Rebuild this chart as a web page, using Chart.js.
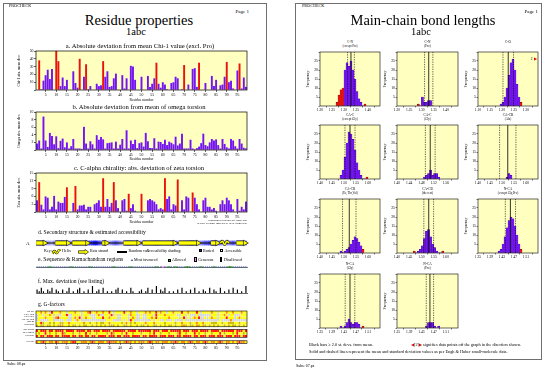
<!DOCTYPE html>
<html><head><meta charset="utf-8"><title>PROCHECK 1abc</title>
<script src="https://cdn.jsdelivr.net/npm/chart.js@4.4.1/dist/chart.umd.min.js"></script>
<style>
html,body{margin:0;padding:0;background:#fff;}
body{width:546px;height:368px;position:relative;overflow:hidden;font-family:"Liberation Serif","Times New Roman",serif;color:#000;}
.pg{position:absolute;border:1px solid #707070;box-sizing:border-box;}
.t{position:absolute;white-space:nowrap;line-height:1;}
.sq{position:absolute;box-sizing:border-box;border:0.5px solid #000;}
canvas{position:absolute;}
</style></head><body>
<div class="pg" style="left:3px;top:3px;width:264px;height:358px"></div>
<div class="pg" style="left:295px;top:3px;width:247px;height:357px"></div>
<script>
// ================= DATA =================
const sequence = ["PQITLWQRPL","VTIKIGGQLK","EALLDTGADD","TVLEEMSLPG","RWKPKMIGGI",
                  "GGFIKVRQYD","QILIEICGHK","AIGTVLVGPT","PVNIIGRNLL","TQIGCTLNF"].join("");
const residueTickLabels = [5,10,15,20,25,30,35,40,45,50,55,60,65,70,75,80,85,90,95];

const chi1Dev = [0,38,1,12,19,26,14,27,0,50,
                 37,5,16,5,13,0,0,24,9,3,
                 40,0,17,33,1,5,0,0,8,5,
                 6,37,17,24,4,5,15,21,0,0,
                 19,2,15,0,31,30,13,0,0,17,
                 0,0,18,4,8,15,35,8,3,10,
                 7,1,0,9,10,17,15,0,1,32,
                 0,7,0,27,28,4,35,0,0,9,
                 0,0,18,5,13,0,6,7,17,36,
                 10,12,2,0,25,34,2,16,4];
const chi1Highlighted = [2,10,11,21,24,32,57,70,77,90,96];

const omegaDev = [1.7,2.5,0.4,8.8,2.5,0.8,4.5,3.7,1.5,3.6,
                  0.5,2.4,3.0,0.7,2.0,0.4,1.0,2.9,0.4,0.4,
                  0.4,0.3,6.1,1.7,0.4,2.3,1.5,0.4,3.9,2.7,
                  3.4,2.8,0.4,1.8,1.9,2.0,0.4,2.2,0.4,1.4,
                  2.9,0.4,5.2,0.4,2.5,1.6,2.7,0.5,1.8,2.0,
                  0.9,4.5,2.3,0.5,0.5,3.1,0.4,2.2,2.1,1.6,
                  2.7,1.3,2.2,1.9,1.5,3.5,1.2,1.7,4.3,0.4,
                  0.4,0.4,2.7,0.4,0.2,0.5,0.9,1.8,4.3,1.3,
                  1.0,2.0,2.9,2.5,2.8,1.3,0.4,2.9,1.6,0.7,
                  0.4,2.9,2.5,1.0,0.4,2.9,1.7,0.6,0.4];

const zetaDev = [4.5,11.5,2.8,1,6,5.5,1,2,6.2,1,
                 4,3.5,3.5,5.8,9.5,0,0,3.5,10,1,
                 2.5,2.5,2.8,1,2,2,0,3,3.5,4.5,
                 2,13,2,5,2,3.5,11.5,4.5,1.5,0,
                 4.5,5,0.5,7,1.5,3,0.5,0,0,7,
                 0,0,4.5,5,4.5,4,3,1,1.5,1,
                 13,5,6,1,3,2.5,12.5,0,4.5,1,
                 6,5.5,0,7.5,5.5,3,1,0,4.5,5.5,
                 2,2,1,1.5,0.5,0,3,4.5,3,5.5,
                 4.5,3,1,0,5,0.5,2,1,4];
const zetaHighlighted = [2,15,19,32,37,44,50,61,67,74];

const accessibility = ["3456433245","6775434556","4335678997","6543345654","3467754334",
                       "5434567653","4456765434","5678543456","6789865434","456543345"].join("");
const strandSpans = [[1,4],[10,15],[18,24],[32,33],[42,48],[51,65],[68,76],[83,85],[95,98]];
const helixResidues = [87,88,89,90,91];
const helixTrace = [0,0.75,-0.75,0.75,0];

const ramaRegions = ["aaaaaabaaa","aaaaaabaaa","aaaaabaaaa","aaaaaabaaa","aaaabaaaaa",
                     "aaaaaabaag","aabaabaaaa","bbaaaaabaa","aaabaaaaaa","bbaaaaaaa"].join("");
const maxDeviation = ["2131021302","1020130102","3010204012","0301010230","2010310012",
                      "0130204021","3010102030","1020301021","0302103010","203020104"].join("");

const gFactorLabels = ["Phi-psi","Chi1-chi2","Chi1 only","Chi3 & chi4","Omega","Dihedrals",
                       "M/c bonds","M/c angles","Covalent","Overall"];
const gFactorRows = [
 ["yyoyoywryy","yoyywyyyoy","ywyyoryyoy","yoyyrywyyy","yryyoyywyy","yoyoyyryoy","ywyyoyyyry","yoyyyrywyy","yyoyywyyyo","yyoyyyoyy"],
 ["wyywyyoywy","wwyyrwwyyy","ywyyywwwyo","wwyyyrwyww","yyywoyywwy","wwyyywryyy","oyyyyywwyy","wywwwywwww","wwyyywyyoy","wyywwwyyy"],
 ["wyyyoyyywo","ryyyywwyoy","rwyoyywwyy","yryyoyyyww","yyywyoywwy","wwyyoyryyy","yyoyyyywyr","wywyoyrwwy","wyoyywyyyr","yyywyoyyy"],
 ["wywwwwyyww","wwwywwwywo","ywwwwwwwww","wwwyyywwww","ywywrywwww","wwwwywyyww","ywwwywwwwy","wwwwwwwwww","wwwwwwywww","wowwwwwww"],
 ["yyrkyykyky","ykkyyoyyyy","yyoyykyyky","kkyyoyyyyy","kyoykykyyy","yoyyyoyyyy","kyyyykyyoy","yykyyoyyoy","yykkkyykyy","kkkyykyyy"],
 ["kykkykkyky","kokyykykky","kykkyykyky","kykykkkyky","ykkykyykyk","kykyykkyky","kykkykyyko","kykkyokykk","ykykykyyky","kykkykyky"],
 ["ryrrryrryr","rrryrrrryr","rrryrryrrr","yrrrryrrrr","rryrrrryrr","rrrryrrryr","rryrrrrryr","rryrrryrrr","ryrrrryrrr","rrryrrryr"],
 ["ykyyrykyyk","yyrkyyykyy","kyyrykyyky","yyykyrkyyy","kyryykyyyk","yyykyryyky","yykyyykryy","kyyyrykyyk","yykyyyryky","yykyryyky"],
 ["ryrryrrryr","ryrrrryrry","rryrryrryr","rrryrrryrr","yrrryrrrry","rryrrrryrr","ryrrryrryr","rrryrryrrr","yrrryrrryr","rryrrryrr"],
 ["oyoroyooyr","oyoooyorry","yoooyoroyo","ooyoroooyo","yorooyoyoo","oyoroyooyo","ooyooroyoo","yoroyooyor","oyooyoroyo","oyoyorooy"]
].map(g => g.join(""));

// Main-chain bond length histograms
const histTitles = [["C-N","(except Pro)"],["C-N","(Pro)"],["C-O",""],
                    ["CA-C","(except Gly)"],["CA-C","(Gly)"],["CA-CB","(Ala)"],
                    ["CA-CB","(Ile,Thr,Val)"],["CA-CB","(the rest)"],["N-CA","(except Gly,Pro)"],
                    ["N-CA","(Gly)"],["N-CA","(Pro)"]];
const histAxisRanges = [[1.20,1.45,0.05],[1.20,1.45,0.05],[1.10,1.35,0.05],
                        [1.40,1.65,0.05],[1.40,1.60,0.04],[1.40,1.65,0.05],
                        [1.40,1.65,0.05],[1.40,1.65,0.05],[1.35,1.55,0.04],
                        [1.35,1.55,0.04],[1.35,1.55,0.04]];
const histMeans = [1.329,1.330,1.226,1.525,1.509,1.524,1.522,1.530,1.458,1.450,1.458];
const histSDs   = [0.014,0.017,0.022,0.021,0.016,0.034,0.028,0.020,0.017,0.016,0.012];
const histFirstBin = [8,10,11,10,13,14,10,8,10,10,14];
const histCounts = [
  [2,6,9,10,20,24,22,25,20,15,8,4,2,0,1],
  [1,0,5,2,2,3,3],
  [1,2,5,10,17,24,26,20,12,5,2],
  [2,5,12,20,26,25,22,16,9,5,2,0,0,1],
  [1,2,3,5,2,3,3,1],
  [1,3,2],
  [1,0,1,2,3,5,7,9,8,6,4,2],
  [1,0,1,2,4,8,12,13,9,5,3,1,0,0,1],
  [1,2,5,9,14,18,20,19,15,10,5,2],
  [1,0,1,3,5,3,2,3,3,2,0,1],
  [1,3,3,3,1,0,1]
];
const histFlags = ["rrrr..........r","r......","..........r",".............r","........","...",
                   "...........r","r.............r","...........r","...........r","......."];
const histBinsPerAxis = 30;
const histOffGraph = [0,0,2,0,0,0,0,0,0,0,0];

// ================= STYLE / LAYOUT =================
const YELLOW = '#ffffc0', PURPLE = '#7414f4', PURPLE_EDGE = '#3a0090', RED = '#ec120c', RED_EDGE = '#700000';
const RES_X0 = 36, RES_X1 = 247;
const gColors = {y:'#ffff00', k:'#cdbd00', o:'#ff9000', r:'#ff1a00', w:'#d6d6d6'};
const gSpans = [[0,1],[1,2],[2,3],[3,4],[4,5],[5,6],[7,8],[8,9],[9,10],[11.33,12.33]];
const gBlocks = [[0,6],[7,10],[11.33,12.33]];

Chart.defaults.font.family = '"Liberation Serif","Times New Roman",serif';
Chart.defaults.color = '#000';
Chart.defaults.animation = false;
Chart.defaults.responsive = false;
Chart.defaults.devicePixelRatio = 1;
Chart.defaults.plugins.legend.display = false;
Chart.defaults.plugins.tooltip.enabled = false;

Chart.register({
  id: 'frame',
  beforeDatasetsDraw(chart, args, o) {
    if (!o || !o.fill) return;
    const {ctx, chartArea: a} = chart;
    ctx.save(); ctx.fillStyle = o.fill; ctx.fillRect(a.left, a.top, a.right - a.left, a.bottom - a.top); ctx.restore();
  },
  afterDatasetsDraw(chart, args, o) {
    if (!o) return;
    const {ctx, chartArea: a} = chart;
    ctx.save(); ctx.strokeStyle = '#000'; ctx.lineWidth = o.lineWidth || 0.7;
    if (o.stroke) ctx.strokeRect(a.left, a.top, a.right - a.left, a.bottom - a.top);
    if (o.blocks) {
      const y = chart.scales.y;
      o.blocks.forEach(([b0, b1]) => {
        const p0 = y.getPixelForValue(b0), p1 = y.getPixelForValue(b1);
        ctx.strokeRect(a.left, Math.min(p0, p1), a.right - a.left, Math.abs(p1 - p0));
      });
    }
    ctx.restore();
  }
});

function mkCanvas(L, T, W, H) {
  const c = document.createElement('canvas');
  c.width = W; c.height = H;
  c.style.left = L + 'px'; c.style.top = T + 'px'; c.style.width = W + 'px'; c.style.height = H + 'px';
  document.body.appendChild(c);
  return c;
}
function txt(x, y, s, size, align, extra, html) {
  const d = document.createElement('div');
  d.className = 't';
  if (html) d.innerHTML = s; else d.textContent = s;
  d.style.fontSize = size + 'px';
  d.style.top = (y - size * 0.55) + 'px';
  if (align === 'c') { d.style.left = x + 'px'; d.style.transform = 'translateX(-50%)'; }
  else if (align === 'r') { d.style.right = (546 - x) + 'px'; }
  else d.style.left = x + 'px';
  if (extra) Object.assign(d.style, extra);
  document.body.appendChild(d);
  return d;
}
function sq(x, y, w, h, bg) {
  const d = document.createElement('div'); d.className = 'sq';
  Object.assign(d.style, {left: x + 'px', top: y + 'px', width: w + 'px', height: h + 'px', background: bg});
  document.body.appendChild(d);
}

const residueNumbers = Array.from(sequence, (_, i) => i + 1);
const isResTick = i => residueTickLabels.includes(i + 1);

// ================= LEFT PAGE: residue plots =================
function residueBarChart(plotTop, plotBottom, titleY, values, highlighted, ymax, ystep, ytitle) {
  const L = 17, W = 236, T = plotTop - 3, H = titleY + 2.5 - T;
  const cv = mkCanvas(L, T, W, Math.round(H));
  const hi = values.map((v, i) => highlighted.includes(i + 1));
  new Chart(cv, {
    type: 'bar',
    data: { labels: residueNumbers, datasets: [{
      data: values,
      backgroundColor: hi.map(h => h ? RED : PURPLE),
      borderWidth: 0,
      barPercentage: 1, categoryPercentage: 0.9
    }]},
    options: {
      layout: { padding: { left: 0, top: plotTop - T, right: L + W - RES_X1, bottom: 0 } },
      plugins: { frame: { fill: YELLOW, stroke: true } },
      scales: {
        x: { offset: true,
             grid: { offset: false, drawOnChartArea: false, tickLength: 2, lineWidth: 0.6,
                     color: c => isResTick(c.index) ? '#000' : 'rgba(0,0,0,0)' },
             border: { display: false },
             ticks: { autoSkip: false, maxRotation: 0, minRotation: 0, padding: 0.5, font: { size: 3.8 },
                      callback: (v, i) => isResTick(i) ? String(i + 1) : '' },
             title: { display: true, text: 'Residue number', font: { size: 3.7 }, padding: { top: 0.5, bottom: 0 } },
             afterFit: s => { s.height = Math.round(H) - (plotBottom - T); } },
        y: { min: 0, max: ymax,
             grid: { drawOnChartArea: false, tickLength: 2, lineWidth: 0.6, color: '#000' },
             border: { display: false },
             ticks: { stepSize: ystep, font: { size: 3.8 }, padding: 0.5, callback: v => v === 0 ? '' : v },
             title: { display: true, text: ytitle, font: { size: 3.8 }, padding: 0 },
             afterFit: s => { s.width = RES_X0 - L; } }
      }
    }
  });
}
residueBarChart(51, 90, 99, chi1Dev, chi1Highlighted, 50, 10, 'Chi-1 abs. mean dev.');
residueBarChart(112, 150, 158.5, omegaDev, [], 10, 2, 'Omega abs. mean dev.');
residueBarChart(173, 212, 221.5, zetaDev, zetaHighlighted, 15, 3, 'Zeta abs. mean dev.');

// ---- d. secondary structure strip ----
(function () {
  const L = 30, T = 236, W = 222, H = 14, pTop = 240, pBot = 246.5;
  const cv = mkCanvas(L, T, W, H);
  const accColors = Array.from(accessibility, ch => { const d = +ch; const c = 245 - 24 * d; return `rgb(${c},${c},255)`; });
  const strandPts = strandSpans.flatMap(([s, e]) => [{x: s - 0.45, y: 0}, {x: e + 0.1, y: 0}, {x: e + 0.2, y: null}]);
  const helixPts = helixResidues.map((r, i) => ({x: r, y: helixTrace[i]}));
  new Chart(cv, {
    type: 'bar',
    data: { datasets: [
      { type: 'bar', data: residueNumbers.map(r => ({x: r, y: [-1, 1]})), backgroundColor: accColors,
        barPercentage: 1, categoryPercentage: 1, borderWidth: 0, order: 10 },
      { type: 'line', data: [{x: 0.6, y: 0}, {x: 99.4, y: 0}], borderColor: '#000', borderWidth: 1, pointRadius: 0, order: 9, clip: false },
      { type: 'line', data: strandPts, borderColor: '#000', borderWidth: 5, borderCapStyle: 'butt', pointRadius: 0, spanGaps: false, order: 8, clip: false },
      { type: 'line', data: strandPts, borderColor: '#ffff00', borderWidth: 3.4, borderCapStyle: 'butt', pointRadius: 0, spanGaps: false, order: 7, clip: false },
      { type: 'line', data: strandSpans.map(([s, e]) => ({x: e + 0.6, y: 0})), showLine: false, pointStyle: 'triangle', rotation: 90,
        pointRadius: 3.3, pointBackgroundColor: '#ffff00', pointBorderColor: '#000', pointBorderWidth: 0.6, order: 6, clip: false },
      { type: 'line', data: helixPts, borderColor: '#000', borderWidth: 2.6, tension: 0.45, pointRadius: 0, order: 5, clip: false },
      { type: 'line', data: helixPts, borderColor: '#ffff00', borderWidth: 1.5, tension: 0.45, pointRadius: 0, order: 4, clip: false }
    ]},
    options: {
      layout: { padding: { left: RES_X0 - L, right: L + W - RES_X1, top: pTop - T, bottom: T + H - pBot } },
      scales: { x: { type: 'linear', display: false, min: 0.5, max: 99.5, offset: false },
                y: { display: false, min: -1, max: 1 } }
    }
  });
})();

// ---- e. sequence & Ramachandran regions ----
(function () {
  const L = 30, T = 262, W = 222, H = 12, pTop = 263.5, pBot = 267.6;
  const cv = mkCanvas(L, T, W, H);
  const pick = code => residueNumbers.map((r, i) => ramaRegions[i] === code ? 0.45 : null);
  new Chart(cv, {
    type: 'line',
    data: { labels: residueNumbers, datasets: [
      { data: pick('a'), showLine: false, pointStyle: 'triangle', pointRadius: 1.1, pointBackgroundColor: '#1d3a7a', pointBorderColor: '#1d3a7a', pointBorderWidth: 0.3 },
      { data: pick('b'), showLine: false, pointStyle: 'rect', pointRadius: 1.6, pointBackgroundColor: '#00b400', pointBorderColor: '#000', pointBorderWidth: 0.4 },
      { data: pick('g'), showLine: false, pointStyle: 'rect', pointRadius: 2.2, pointBackgroundColor: '#ff7cff', pointBorderColor: '#000', pointBorderWidth: 0.4 },
      { data: pick('d'), showLine: false, pointStyle: 'rect', pointRadius: 2.2, pointBackgroundColor: '#ff0000', pointBorderColor: '#000', pointBorderWidth: 0.4 }
    ]},
    options: {
      layout: { padding: { left: RES_X0 - L, right: L + W - RES_X1, top: pTop - T, bottom: 0 } },
      scales: {
        x: { offset: true, grid: { display: false }, border: { display: true, color: '#000', width: 0.5 },
             ticks: { autoSkip: false, maxRotation: 0, minRotation: 0, padding: 0.6, font: { size: 2.9 },
                      callback: (v, i) => sequence[i] },
             afterFit: s => { s.height = T + H - pBot; } },
        y: { display: false, min: 0, max: 1 }
      }
    }
  });
})();

// ---- f. max deviation ----
(function () {
  const L = 30, T = 284, W = 222, H = 10, pTop = 286, pBot = 293;
  const cv = mkCanvas(L, T, W, H);
  new Chart(cv, {
    type: 'bar',
    data: { labels: residueNumbers, datasets: [{ data: Array.from(maxDeviation, Number), backgroundColor: '#000', barPercentage: 0.55, categoryPercentage: 1 }] },
    options: {
      layout: { padding: { left: RES_X0 - L, right: L + W - RES_X1, top: pTop - T, bottom: 0 } },
      scales: {
        x: { grid: { display: false }, border: { display: true, color: '#000', width: 0.6 }, ticks: { display: false },
             afterFit: s => { s.height = T + H - pBot; } },
        y: { display: false, min: 0, max: 4 }
      }
    }
  });
})();

// ---- g. G-factors ----
(function () {
  const L = 30, T = 309, W = 222, H = 45, pTop = 311, pBot = 343.4;
  const cv = mkCanvas(L, T, W, H);
  const datasets = gFactorRows.map((row, k) => ({
    data: Array.from(row, () => gSpans[k]),
    backgroundColor: Array.from(row, ch => gColors[ch]),
    borderColor: 'rgba(255,255,255,0.55)', borderWidth: 0.3,
    barPercentage: 1, categoryPercentage: 1, grouped: false
  }));
  new Chart(cv, {
    type: 'bar',
    data: { labels: residueNumbers, datasets },
    options: {
      layout: { padding: { left: RES_X0 - L, right: L + W - RES_X1, top: pTop - T, bottom: 0 } },
      plugins: { frame: { blocks: gBlocks, lineWidth: 0.6 } },
      scales: {
        x: { offset: true,
             grid: { offset: false, drawOnChartArea: false, tickLength: 1.5, lineWidth: 0.5,
                     color: c => isResTick(c.index) ? '#000' : 'rgba(0,0,0,0)' },
             border: { display: false },
             ticks: { autoSkip: false, maxRotation: 0, minRotation: 0, padding: 1, font: { size: 3.8 },
                      callback: (v, i) => isResTick(i) ? String(i + 1) : '' },
             afterFit: s => { s.height = T + H - pBot; } },
        y: { display: false, min: 0, max: 12.33, reverse: true }
      }
    }
  });
  gFactorLabels.forEach((lab, k) => {
    const mid = (gSpans[k][0] + gSpans[k][1]) / 2;
    txt(34, pTop + mid * (pBot - pTop) / 12.33, lab, 2.5, 'r');
  });
})();

// ================= RIGHT PAGE: histograms =================
const histColLeft = [320, 397, 478], histColWidth = [60, 61, 60], histRowTop = [52, 125, 199, 274], HIST_H = 54;
function histChart(k) {
  const col = k % 3, row = Math.floor(k / 3);
  const pl = histColLeft[col], pw = histColWidth[col], pt = histRowTop[row], pb = pt + HIST_H;
  const L = pl - 14, T = pt - 3, W = pw + 14 + 4, H = pb + 8 - T;
  const [xmin, xmax, step] = histAxisRanges[k];
  const bw = (xmax - xmin) / histBinsPerAxis;
  const counts = histCounts[k], flags = histFlags[k], first = histFirstBin[k];
  const m = histMeans[k], sd = histSDs[k];
  const vline = (x, dash) => ({ type: 'line', data: [{x, y: 0}, {x, y: 30}], borderColor: '#000',
    borderWidth: dash ? 0.6 : 0.8, borderDash: dash ? [1.3, 1.1] : [], pointRadius: 0, order: 1 });
  const cv = mkCanvas(L, T, W, H);
  new Chart(cv, {
    type: 'bar',
    data: { datasets: [
      { type: 'bar', data: counts.map((n, i) => ({x: xmin + (first + i + 0.5) * bw, y: n})),
        backgroundColor: Array.from(flags, f => f === 'r' ? RED : PURPLE),
        borderColor: Array.from(flags, f => f === 'r' ? RED_EDGE : PURPLE_EDGE),
        borderWidth: ctx => ctx.raw && ctx.raw.y ? 0.4 : 0,
        barPercentage: 1, categoryPercentage: 1, order: 2 },
      vline(m, false), vline(m - sd, true), vline(m + sd, true)
    ]},
    options: {
      layout: { padding: { left: 0, top: pt - T, right: L + W - (pl + pw), bottom: 0 } },
      plugins: { frame: { fill: YELLOW, stroke: true, lineWidth: 0.6 } },
      scales: {
        x: { type: 'linear', min: xmin, max: xmax, offset: false,
             grid: { drawOnChartArea: false, tickLength: 1.5, lineWidth: 0.5, color: '#000' },
             border: { display: false },
             ticks: { stepSize: step, autoSkip: false, maxRotation: 0, minRotation: 0, padding: 0.5, font: { size: 3.6 },
                      callback: v => Math.abs(v - xmax) < 1e-9 ? '' : v.toFixed(2) },
             afterFit: s => { s.height = H - (pb - T); } },
        y: { min: 0, max: 30,
             grid: { drawOnChartArea: false, tickLength: 1.5, lineWidth: 0.5, color: '#000' },
             border: { display: false },
             ticks: { stepSize: 5, font: { size: 3.8 }, padding: 0.5, callback: v => (v === 0 || v === 30) ? '' : v },
             title: { display: true, text: 'Frequency', font: { size: 4 }, padding: 0 },
             afterFit: s => { s.width = pl - L; } }
      }
    }
  });
  const cx = pl + pw / 2;
  txt(cx, pt - 9, histTitles[k][0], 3.4, 'c');
  if (histTitles[k][1]) txt(cx, pt - 4.8, histTitles[k][1], 3.1, 'c');
  if (histOffGraph[k]) txt(pl + pw - 1.5, pt + 8, histOffGraph[k] + ' <span style="color:#e00000">&#9654;</span>', 3.6, 'r', null, true);
}
histTitles.forEach((_, k) => histChart(k));

// ================= TEXT =================
// left page
txt(9, 6.5, 'PROCHECK', 4.2);
txt(249, 12, 'Page  1', 5, 'r');
txt(139, 20.5, 'Residue properties', 14.5, 'c');
txt(136, 33, '1abc', 10.5, 'c');
txt(140, 47, 'a. Absolute deviation from mean Chi-1 value (excl. Pro)', 6.6, 'c');
txt(139, 108, 'b. Absolute deviation from mean of omega torsion', 6.6, 'c');
txt(139, 168.5, 'c. C-alpha chirality: abs. deviation of zeta torsion', 6.6, 'c');
txt(247, 221.4, 'Highlighted residues are those that', 2.8, 'r');
txt(247, 224.6, 'deviate by more than 2.0 st. devs. from ideal', 2.8, 'r');
txt(38, 233.5, 'd. Secondary structure & estimated accessibility', 5.6);
txt(26, 243.3, 'A', 5);
txt(44, 251, 'Key:', 4);
txt(52, 251, '<svg width="9" height="6" viewBox="0 0 9 6" style="vertical-align:middle"><path d="M0.5 5 Q2 0 3.5 3 T6.5 1.5 L8.5 0.8" fill="none" stroke="#000" stroke-width="2.2"/><path d="M0.5 5 Q2 0 3.5 3 T6.5 1.5 L8.5 0.8" fill="none" stroke="#ffff00" stroke-width="1.2"/></svg>', 4, null, null, true);
txt(62, 251, 'Helix', 4);
txt(78, 251, '<svg width="11" height="6" viewBox="0 0 11 6" style="vertical-align:middle"><path d="M0.5 1.7 H7 V0.4 L10.5 3 L7 5.6 V4.3 H0.5 Z" fill="#ffff00" stroke="#000" stroke-width="0.6"/></svg>', 4, null, null, true);
txt(90, 251, 'Beta strand', 4);
sq(117, 250.5, 10, 0.9, '#000');
txt(128.5, 251, 'Random coil', 4);
txt(146, 251, 'Accessibility shading:', 4);
sq(198.5, 249.3, 3.2, 3.2, '#1e1eff');
txt(203, 251, 'Buried', 4);
sq(219.5, 249.3, 3.2, 3.2, '#ffffff');
txt(224.5, 251, 'Accessible', 4);
txt(38, 260.5, 'e. Sequence & Ramachandran regions', 5.6);
txt(131, 260.5, '<span style="color:#1d3a7a">&#9652;</span> Most favoured', 4, null, null, true);
sq(168, 258.6, 3.2, 3.2, '#00b400');
txt(172, 260.5, 'Allowed', 4);
sq(194, 257.2, 2.8, 5, '#ff7cff');
txt(198, 260.5, 'Generous', 4);
sq(219.5, 257.2, 2.8, 5, '#ff0000');
txt(224, 260.5, 'Disallowed', 4);
txt(38, 282, 'f. Max. deviation (see listing)', 5.6);
txt(38, 305, 'g. G-factors', 5.6);
txt(7, 364.5, 'Sabs: 08.ps', 4);
// right page
txt(302, 6.5, 'PROCHECK', 4.2);
txt(538, 12, 'Page  1', 5, 'r');
txt(423, 20.5, 'Main-chain bond lengths', 14.5, 'c');
txt(421, 33, '1abc', 10.5, 'c');
txt(309, 345, 'Black bars &#8805; 2.0 st. devs. from mean.', 4.3, null, null, true);
txt(411, 345, '<span style="color:#e00000">&#9664;</span>[2]<span style="color:#e00000">&#9654;</span> signifies data points off the graph in the direction shown.', 4.3, null, null, true);
txt(309, 352, 'Solid and dashed lines represent the mean and standard deviation values as per Engh &amp; Huber small-molecule data.', 4.3, null, null, true);
txt(296, 366, 'Sabs: 07.ps', 4);
</script>
</body></html>
